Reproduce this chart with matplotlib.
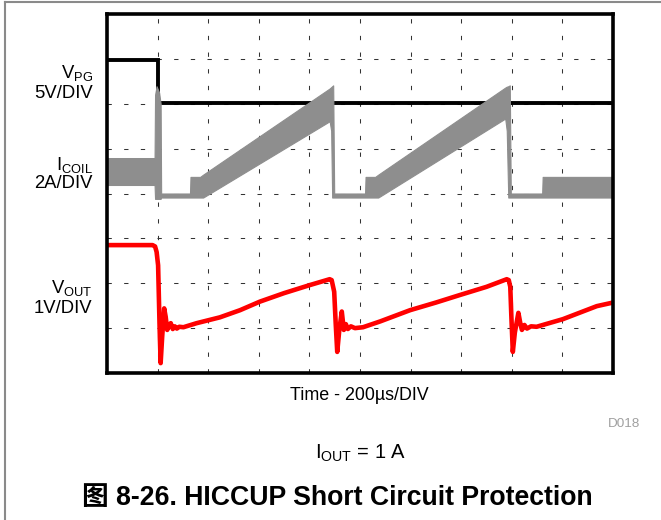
import matplotlib
matplotlib.use("Agg")
import matplotlib.pyplot as plt
from matplotlib.lines import Line2D

plt.rcParams['font.family'] = ['Liberation Sans', 'Noto Sans CJK SC', 'DejaVu Sans']
plt.rcParams['mathtext.fontset'] = 'custom'
plt.rcParams['mathtext.rm'] = 'Liberation Sans'
plt.rcParams['mathtext.it'] = 'Liberation Sans:italic'
plt.rcParams['mathtext.bf'] = 'Liberation Sans:bold'
plt.rcParams['lines.scale_dashes'] = False

# Scope traces in screen divisions (x: 10 div of 200 us, y: 8 div)
vpg_x = [0.00, 1.00, 1.00, 10.00]
vpg_y = [6.98, 6.98, 6.02, 6.02]

coil_x = [0.00, 0.94, 0.95, 0.98, 1.03, 1.06, 1.07, 1.64, 1.65, 1.84, 1.90,
          4.40, 4.43, 4.45, 4.47, 4.49, 5.10, 5.11, 5.30, 5.36,
          7.87, 7.90, 7.93, 7.96, 7.98, 8.60, 8.61, 10.00]
coil_hi = [4.79, 4.79, 6.20, 6.39, 6.25, 6.00, 4.00, 4.00, 4.37, 4.37, 4.42,
           6.34, 6.37, 6.39, 6.41, 4.00, 4.00, 4.37, 4.37, 4.42,
           6.36, 6.38, 6.39, 6.41, 4.00, 4.00, 4.37, 4.37]
coil_lo = [4.19, 4.19, 3.88, 3.88, 3.88, 3.88, 3.91, 3.91, 3.91, 3.91, 3.91,
           5.61, 5.40, 3.91, 3.91, 3.91, 3.91, 3.91, 3.91, 3.91,
           5.67, 5.40, 3.91, 3.91, 3.91, 3.91, 3.91, 3.91]

vout_x = [0.00, 0.90, 0.95, 0.98, 1.01, 1.04, 1.06, 1.09, 1.13, 1.16, 1.19,
          1.23, 1.26, 1.30, 1.34, 1.38, 1.43, 1.51, 1.77, 2.23, 2.63, 3.02,
          3.50, 4.01, 4.40, 4.44, 4.49, 4.52, 4.55, 4.59, 4.64, 4.68, 4.72,
          4.76, 4.82, 4.90, 5.06, 5.40, 5.99, 6.50, 6.98, 7.50, 7.90, 7.94,
          7.97, 7.99, 8.02, 8.06, 8.13, 8.17, 8.20, 8.25, 8.30, 8.38, 8.49,
          9.01, 9.68, 10.00]
vout_y = [2.85, 2.85, 2.82, 2.70, 2.40, 1.00, 0.22, 0.80, 1.44, 1.25, 0.96,
          1.08, 1.11, 0.98, 1.04, 0.99, 1.03, 1.02, 1.11, 1.24, 1.40, 1.59,
          1.78, 1.96, 2.09, 2.07, 1.81, 1.10, 0.47, 0.95, 1.37, 0.96, 1.09,
          0.98, 1.04, 1.00, 1.02, 1.15, 1.40, 1.57, 1.74, 1.92, 2.09, 2.07,
          1.92, 1.30, 0.47, 0.90, 1.34, 1.10, 0.96, 1.07, 0.99, 1.04, 1.03,
          1.20, 1.49, 1.57]

W, H = 661, 520
fig = plt.figure(figsize=(W / 100, H / 100), dpi=100)
fig.patch.set_facecolor('white')


def fx(x):
    return x / W


def fy(y):
    return 1 - y / H


ax = fig.add_axes([fx(107), fy(373), (613 - 107) / W, (373 - 14) / H])
ax.set_xlim(0, 10)
ax.set_ylim(0, 8)

# dashed graticule
grid_kw = dict(color='#333333', lw=0.75, dashes=(3.1, 8.9), zorder=1)
for gx in range(1, 10):
    ax.plot([gx, gx], [0, 8], **grid_kw)
for gy in range(1, 8):
    ax.plot([0, 10], [gy, gy], **grid_kw)

ax.plot(vpg_x, vpg_y, color='black', lw=2.8, zorder=3, solid_joinstyle='miter')
ax.fill_between(coil_x, coil_lo, coil_hi, color='#8e8e8e', lw=0.8,
                edgecolor='#8e8e8e', zorder=4)
ax.plot(vout_x, vout_y, color='#ff0000', lw=3.3, zorder=5)

ax.set_xticks([])
ax.set_yticks([])
for sp in ax.spines.values():
    sp.set_linewidth(2.6)
    sp.set_color('black')
    sp.set_zorder(10)

# channel labels
lab_kw = dict(ha='right', va='baseline', fontsize=13.3, color='black')
fig.text(fx(93), fy(78.3), r'V$_{\mathrm{PG}}$', **lab_kw)
fig.text(fx(92.5), fy(98.3), '5V/DIV', **lab_kw)
fig.text(fx(93), fy(170), r'I$_{\mathrm{COIL}}$', **lab_kw)
fig.text(fx(92.5), fy(187.8), '2A/DIV', **lab_kw)
fig.text(fx(93), fy(293.3), r'V$_{\mathrm{OUT}}$', **lab_kw)
fig.text(fx(92.5), fy(313.3), '1V/DIV', **lab_kw)

fig.text(fx(359), fy(400), 'Time - 200µs/DIV', ha='center', va='baseline',
         fontsize=12.9)
fig.text(fx(640), fy(427.3), 'D018', ha='right', va='baseline',
         fontsize=9.7, color='#a0a0a0')
fig.text(fx(361), fy(458.3), r'I$_{\mathrm{OUT}}$ = 1 A', ha='center',
         va='baseline', fontsize=14.5)
fig.text(fx(337.5), fy(505), '图 8-26. HICCUP Short Circuit Protection',
         ha='center', va='baseline', fontsize=19.2, fontweight='bold',
         family=['Liberation Sans', 'Noto Sans CJK SC'])

# outer frame (top and left edges)
fig.add_artist(Line2D([fx(5), 1.0], [fy(2), fy(2)], color='#8a8a8a', lw=1.5))
fig.add_artist(Line2D([fx(5), fx(5)], [fy(2), 0.0], color='#8a8a8a', lw=1.5))

fig.savefig('out.png', dpi=100, facecolor='white')
